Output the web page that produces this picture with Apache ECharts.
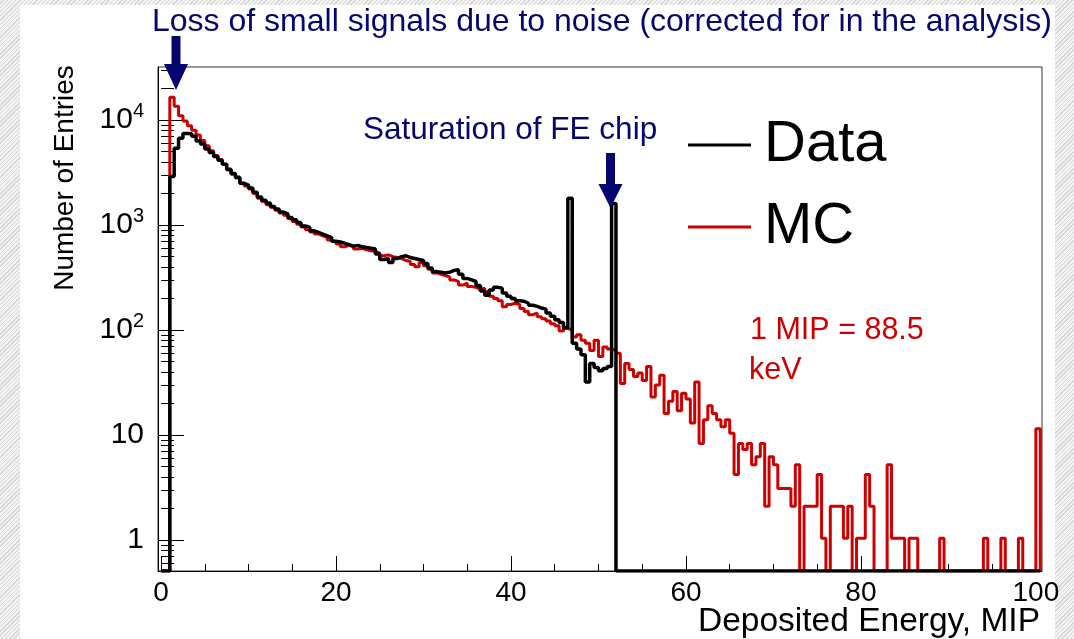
<!DOCTYPE html>
<html><head><meta charset="utf-8">
<script src="https://cdn.jsdelivr.net/npm/echarts@6/dist/echarts.min.js"></script>
<style>
html,body{margin:0;padding:0;width:1074px;height:639px;overflow:hidden;
background:repeating-linear-gradient(135deg,#f2f2f2 0 2px,#d6d6d6 2px 3px);}
#paper{position:absolute;left:20px;top:5px;width:1035px;height:634px;background:#fff;}
#chart{position:absolute;left:0;top:0;width:1074px;height:639px;}
</style></head><body><div id="paper"></div><div id="chart"></div>
<script>
// Histogram binning (MIP)
const BIN_WIDTH = 0.5;
const X_START = 0;
// Data (black) entries per bin
const dataCounts = [
0,0,2900,5400,6700,7450,7400,7000,6300,5900,
5300,4900,4500,4150,3800,3400,3100,2850,2500,2400,
2250,2050,1850,1720,1620,1500,1420,1330,1280,1180,
1120,1060,980,950,880,850,820,790,760,700,
690,670,650,630,640,620,610,600,590,530,
470,480,440,480,500,510,490,480,470,460,
430,390,360,355,350,355,370,375,340,310,
300,290,265,235,215,240,255,250,225,210,
200,190,188,180,172,168,162,158,145,135,
125,118,105,1800,75,66,58,32,48,44,
41,43,45,1600,0,0,0,0,0,0,
0,0,0,0,0,0,0,0,0,0,
0,0,0,0,0,0,0,0,0,0,
0,0,0,0,0,0,0,0,0,0,
0,0,0,0,0,0,0,0,0,0,
0,0,0,0,0,0,0,0,0,0,
0,0,0,0,0,0,0,0,0,0,
0,0,0,0,0,0,0,0,0,0,
0,0,0,0,0,0,0,0,0,0,
0,0,0,0,0,0,0,0,0,0,
0
];
// MC (red) entries per bin
const mcCounts = [
0,0,16500,13500,11000,9800,8800,8000,7200,6400,
5700,5100,4600,4200,3800,3350,3050,2800,2500,2350,
2200,2000,1800,1680,1560,1480,1380,1300,1240,1150,
1080,1020,960,900,860,820,790,760,720,690,
660,620,640,620,590,600,580,570,560,540,
510,520,500,490,480,460,450,420,400,440,
410,380,350,340,330,320,300,290,268,280,
260,255,245,250,230,210,200,190,167,175,
180,175,160,150,140,145,134,128,122,115,
110,98,104,100,86,90,80,75,64,80,
56,69,66,64,60,31,48,42,36,39,
33,45,23,30,37,16,21,26,17,25,
22,13,32,8.3,14,19,16,14,12,14,
10.4,4.2,8.3,7.3,8.3,5.2,6.2,8.3,2.1,6.2,
5.2,3.1,3.1,3.1,2.1,5.2,0,2.1,2.1,2.1,
4.2,1.04,0,2.1,2.1,2.1,1.04,2.1,0,1.04,
1.04,4.2,2.1,0,0,0,5.2,1.04,1.04,1.04,
0,1.04,1.04,0,0,0,0,0,1.04,0,
0,0,0,0,0,0,0,0,1.04,0,
0,0,1.04,0,0,0,1.04,0,0,0,
11.5
];
const xMajorTicks = [0,20,40,60,80,100];
const xMinorTicks = [5,10,15,25,30,35,45,50,55,65,70,75,85,90,95];
const yMajorTicks = [1,10,100,1000,10000];
const yMinorTicks = [0.6,0.7,0.8,0.9,2,3,4,5,6,7,8,9,20,30,40,50,60,70,80,90,
  200,300,400,500,600,700,800,900,2000,3000,4000,5000,6000,7000,8000,9000,20000,30000];

const X_MIN = -0.35, X_MAX = 100.7;
const Y_MIN = 0.507, Y_MAX = 32000;
const FONT = "'Liberation Sans', Arial, sans-serif";
const NAVY = '#06066e';
const RED = '#cc0000';

function histPoints(counts){
  const pts = counts.map((v,i)=>[X_START + i*BIN_WIDTH, v > 0 ? v : Y_MIN]);
  pts.push([X_START + counts.length*BIN_WIDTH, Y_MIN]);
  return pts;
}

const chart = echarts.init(document.getElementById('chart'), null, {renderer:'canvas'});
const axisCommon = {min: X_MIN, max: X_MAX, splitLine:{show:false}};
chart.setOption({
  animation:false,
  backgroundColor:'transparent',
  textStyle:{fontFamily:FONT},
  title:{text:'Loss of small signals due to noise (corrected for in the analysis)',
    left:147, top:1, textStyle:{fontSize:32, fontWeight:'normal', color:NAVY, fontFamily:FONT}},
  grid:{left:158, right:32, top:67, bottom:68, show:true, borderColor:'#333', borderWidth:1, backgroundColor:'transparent'},
  legend:{data:['Data','MC'], orient:'vertical', left:683, top:109, icon:'rect', itemWidth:63, itemHeight:3,
    itemGap:20, textStyle:{fontSize:58, color:'#000', fontFamily:FONT, lineHeight:62, padding:[0,0,0,8]}},
  xAxis:[
    Object.assign({type:'value', position:'bottom',
      axisLine:{show:true, onZero:false, lineStyle:{color:'#000', width:1}},
      axisTick:{show:true, inside:true, length:15, customValues:xMajorTicks, lineStyle:{color:'#000'}},
      axisLabel:{show:true, customValues:xMajorTicks, fontSize:28, color:'#000', margin:8, fontFamily:FONT}}, axisCommon),
    Object.assign({type:'value', position:'bottom',
      axisLine:{show:false}, axisLabel:{show:false},
      axisTick:{show:true, inside:true, length:7, customValues:xMinorTicks, lineStyle:{color:'#000'}}}, axisCommon)
  ],
  yAxis:[
    {type:'log', logBase:10, min:Y_MIN, max:Y_MAX, position:'left', splitLine:{show:false},
      axisLine:{show:true, onZero:false, lineStyle:{color:'#000', width:1}},
      axisTick:{show:true, inside:true, length:26, customValues:yMajorTicks, lineStyle:{color:'#000'}},
      axisLabel:{show:true, customValues:yMajorTicks, margin:14, color:'#000',
        formatter:function(v){ const e = Math.round(Math.log10(v)); return e >= 2 ? '{b|10}{s|'+e+'}' : '{b|'+Math.round(v)+'}'; },
        rich:{b:{fontSize:30, color:'#000', fontFamily:FONT}, s:{fontSize:20, color:'#000', fontFamily:FONT, padding:[0,0,17,0]}}}},
    {type:'log', logBase:10, min:Y_MIN, max:Y_MAX, position:'left', splitLine:{show:false},
      axisLine:{show:false}, axisLabel:{show:false},
      axisTick:{show:true, inside:true, length:13, customValues:yMinorTicks, lineStyle:{color:'#000'}}}
  ],
  series:[
    {name:'MC', type:'line', step:'end', xAxisIndex:0, yAxisIndex:0, data:histPoints(mcCounts),
      showSymbol:false, symbol:'none', clip:true, lineStyle:{color:RED, width:3}, itemStyle:{color:RED}, z:2},
    {name:'Data', type:'line', step:'end', xAxisIndex:0, yAxisIndex:0, data:histPoints(dataCounts),
      showSymbol:false, symbol:'none', clip:true, lineStyle:{color:'#000', width:3.5}, itemStyle:{color:'#000'}, z:3}
  ],
  graphic:[
    {type:'text', x:65, y:178, rotation:Math.PI/2, style:{text:'Number of Entries', fontSize:28, fontFamily:FONT, fill:'#000', align:'center', verticalAlign:'middle', textAlign:'center', textVerticalAlign:'middle'}},
    {type:'text', x:1040, y:622, style:{text:'Deposited Energy, MIP', fontSize:33.5, fontFamily:FONT, fill:'#000', align:'right', verticalAlign:'middle', textAlign:'right', textVerticalAlign:'middle'}},
    {type:'text', x:363, y:130, style:{text:'Saturation of FE chip', fontSize:31.5, fontFamily:FONT, fill:NAVY, align:'left', verticalAlign:'middle', textAlign:'left', textVerticalAlign:'middle'}},
    {type:'text', x:750, y:331, style:{text:'1 MIP = 88.5', fontSize:30.5, fontFamily:FONT, fill:RED, align:'left', verticalAlign:'middle', textAlign:'left', textVerticalAlign:'middle'}},
    {type:'text', x:749, y:371, style:{text:'keV', fontSize:30.5, fontFamily:FONT, fill:RED, align:'left', verticalAlign:'middle', textAlign:'left', textVerticalAlign:'middle'}},
    {type:'rect', shape:{x:171.5, y:36, width:9, height:30}, style:{fill:NAVY}, z:10},
    {type:'polygon', shape:{points:[[164,64],[188,64],[176,90]]}, style:{fill:NAVY}, z:10},
    {type:'rect', shape:{x:606, y:153, width:9, height:33}, style:{fill:NAVY}, z:10},
    {type:'polygon', shape:{points:[[598.5,184],[622.5,184],[610.5,208]]}, style:{fill:NAVY}, z:10}
  ]
});
</script></body></html>
